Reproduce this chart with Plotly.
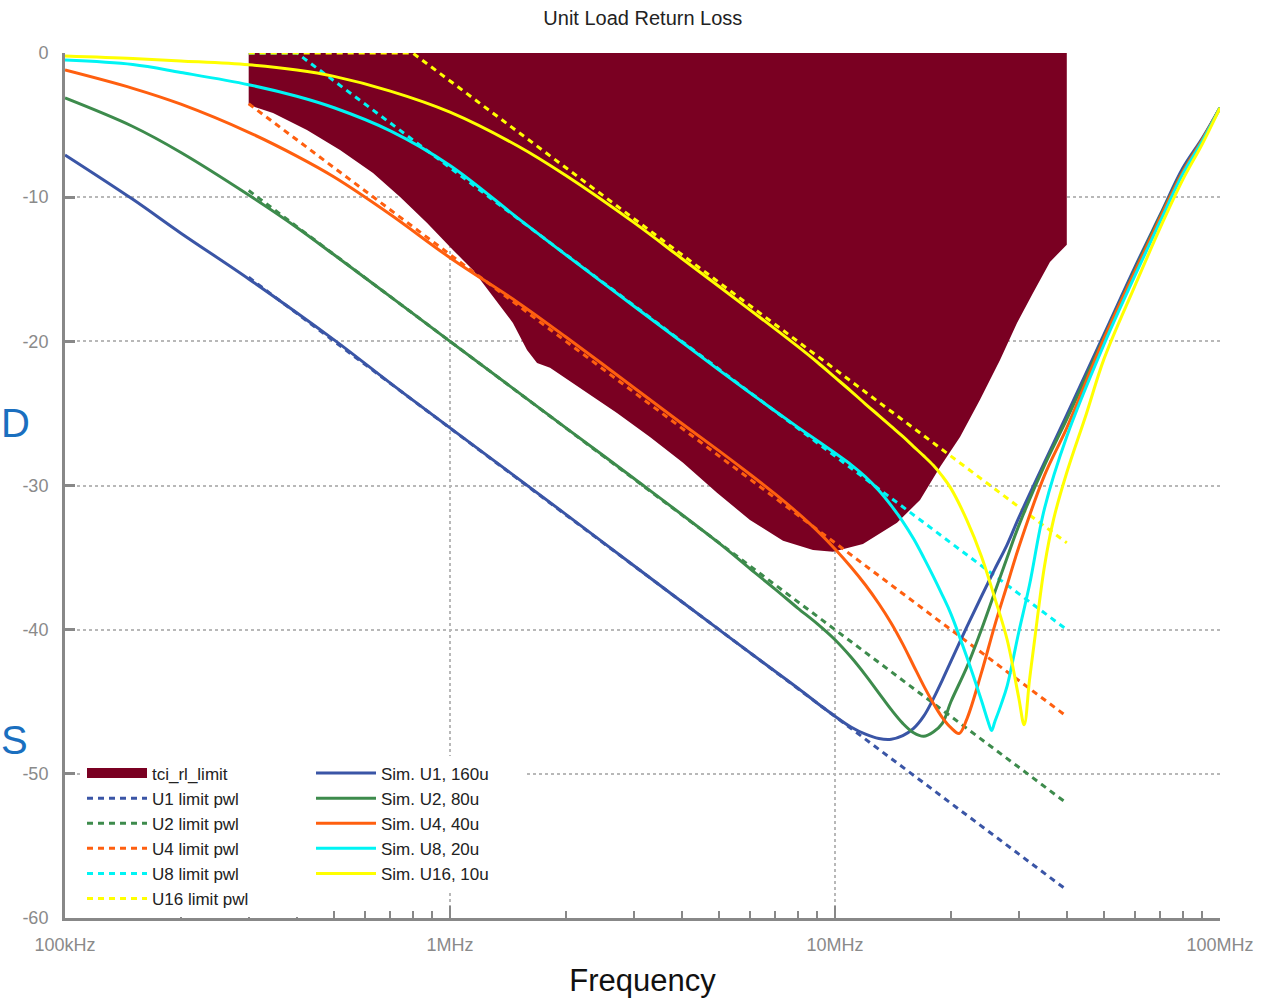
import plotly.graph_objects as go

# ---------------- data (frequency in MHz, return loss in dB) ----------------
limit_top_f = [0.3, 40.0]
limit_top_db = [0.0, 0.0]
limit_low_f = [0.30, 0.347, 0.425, 0.518, 0.631, 0.742, 0.872, 1.018, 1.147, 1.293, 1.457,
               1.585, 1.683, 1.819, 2.216, 2.715, 3.307, 4.03, 4.937, 6.014, 7.328, 8.768,
               9.881, 11.82, 14.49, 16.63, 18.74, 21.12, 23.8, 26.83, 29.7, 32.68, 36.17, 40.0]
limit_low_db = [-3.6, -4.16, -5.34, -6.73, -8.32, -9.99, -11.79, -13.66, -15.05, -16.92, -18.72,
                -20.6, -21.5, -21.84, -23.37, -24.97, -26.63, -28.43, -30.51, -32.39, -33.84, -34.47,
                -34.6, -34.05, -32.59, -31.0, -28.72, -26.63, -24.06, -21.29, -18.72, -16.64, -14.49, -13.3]

u1_pwl_f = [0.3, 40.0]
u1_pwl_db = [-15.56, -58.06]
u2_pwl_f = [0.3, 40.0]
u2_pwl_db = [-9.54, -52.04]
u4_pwl_f = [0.3, 40.0]
u4_pwl_db = [-3.52, -46.02]
u8_pwl_f = [0.3, 0.4, 40.0]
u8_pwl_db = [0.0, 0.0, -40.0]
u16_pwl_f = [0.3, 0.8, 40.0]
u16_pwl_db = [0.0, 0.0, -33.98]

sim_u1_f = [0.1, 0.15, 0.2, 0.3, 0.5, 0.7, 1, 2, 3, 5, 7, 8, 9, 10, 11, 12, 13, 14, 15, 16, 17,
            18, 19, 20, 22, 24, 26, 28, 30, 35, 40, 50, 60, 70, 80, 90, 100]
sim_u1_db = [-7.07, -10.15, -12.5, -15.67, -19.9, -22.9, -26.0, -32.0, -35.55, -40.0, -42.9,
             -44.05, -45.1, -46.0, -46.75, -47.25, -47.55, -47.6, -47.35, -46.85, -46.0, -44.8,
             -43.5, -42.2, -39.8, -37.7, -35.8, -34.1, -32.25, -28.4, -25.1, -19.5, -14.9, -11.2,
             -8.0, -5.9, -3.8]

sim_u2_f = [0.1, 0.15, 0.2, 0.3, 0.4, 0.5, 0.7, 1, 2, 3, 5, 6, 7, 8, 9, 10, 11, 12, 13, 14, 15,
            16, 17, 18, 19, 20, 22, 24, 26, 28, 30, 35, 40, 50, 60, 70, 80, 90, 100]
sim_u2_db = [-3.12, -5.1, -6.9, -9.85, -12.1, -14.0, -16.9, -20.0, -26.0, -29.5, -34.0, -35.75,
             -37.2, -38.5, -39.6, -40.7, -41.9, -43.15, -44.4, -45.55, -46.5, -47.15, -47.4,
             -47.1, -46.5, -45.0, -42.6, -40.0, -37.4, -35.0, -32.8, -28.6, -25.4, -19.7, -15.1,
             -11.3, -8.2, -6.0, -3.8]

sim_u4_f = [0.1, 0.15, 0.2, 0.3, 0.4, 0.5, 0.7, 1, 1.5, 2, 3, 4, 5, 6, 7, 8, 9, 10, 11, 12, 13,
            14, 15, 16, 17, 18, 19, 20, 21, 22, 24, 26, 28, 30, 35, 40, 50, 60, 70, 80, 90, 100]
sim_u4_db = [-1.18, -2.45, -3.55, -5.5, -7.15, -8.6, -11.2, -14.2, -17.3, -19.7, -23.2, -25.7,
             -27.6, -29.2, -30.6, -31.9, -33.15, -34.4, -35.65, -36.9, -38.2, -39.55, -41.0,
             -42.5, -43.9, -45.1, -46.1, -46.8, -47.2, -46.2, -43.0, -39.7, -36.9, -34.3, -29.3,
             -26.0, -19.8, -15.2, -11.4, -8.25, -6.0, -3.8]

sim_u8_f = [0.1, 0.15, 0.2, 0.3, 0.4, 0.5, 0.7, 1, 1.5, 2, 3, 4, 5, 6, 7, 8, 9, 10, 11, 12, 13,
            14, 15, 16, 17, 18, 19, 20, 22, 24, 25, 25.5, 26, 27, 28, 30, 32, 35, 40, 50, 60, 70,
            80, 90, 100]
sim_u8_db = [-0.49, -0.8, -1.35, -2.2, -3.0, -3.8, -5.4, -7.8, -11.45, -14.0, -17.55, -20.05,
             -22.0, -23.55, -24.85, -25.95, -26.9, -27.75, -28.55, -29.4, -30.35, -31.4, -32.5,
             -33.7, -35.0, -36.3, -37.6, -38.9, -41.9, -44.9, -46.4, -47.0, -46.4, -45.2, -43.9,
             -40.2, -36.9, -31.6, -26.6, -20.2, -15.5, -11.65, -8.4, -6.1, -3.8]

sim_u16_f = [0.1, 0.15, 0.2, 0.3, 0.4, 0.5, 0.7, 1, 1.5, 2, 3, 4, 5, 6, 7, 8, 9, 10, 11, 12, 13,
             14, 15, 16, 17, 18, 19, 20, 22, 24, 26, 28, 30, 31, 32, 33, 35, 37, 40, 45, 50, 60,
             70, 80, 90, 100]
sim_u16_db = [-0.21, -0.38, -0.55, -0.82, -1.18, -1.62, -2.64, -4.1, -6.45, -8.5, -11.75, -14.25,
              -16.2, -17.8, -19.15, -20.35, -21.45, -22.5, -23.45, -24.35, -25.15, -25.9, -26.6,
              -27.3, -27.95, -28.6, -29.35, -30.2, -32.4, -34.9, -37.8, -40.7, -44.7, -46.6,
              -43.5, -40.7, -35.6, -32.3, -29.1, -25.0, -21.2, -16.2, -12.1, -8.8, -6.3, -3.8]

x_tick_vals = [0.1, 1, 10, 100]
x_tick_text = ["100kHz", "1MHz", "10MHz", "100MHz"]
x_minor_vals = [0.2, 0.3, 0.4, 0.5, 0.6, 0.7, 0.8, 0.9, 2, 3, 4, 5, 6, 7, 8, 9,
                20, 30, 40, 50, 60, 70, 80, 90]
y_tick_vals = [0, -10, -20, -30, -40, -50, -60]
y_tick_text = ["0", "-10", "-20", "-30", "-40", "-50", "-60"]

# ---------------- styles ----------------
C_FILL = "#7a0022"
C_BLUE = "#3a55a6"
C_GREEN = "#3d8b4c"
C_ORANGE = "#ff5f0f"
C_CYAN = "#00f4f4"
C_YELLOW = "#ffff00"
DASH = "6px,5px"
NARROW = "Liberation Sans Narrow, Arial Narrow, Liberation Sans, sans-serif"
PAD1 = "\u00a0" * 20
PAD2 = "\u00a0" * 7

fig = go.Figure()

poly_f = limit_top_f + limit_low_f[::-1] + [limit_top_f[0]]
poly_db = limit_top_db + limit_low_db[::-1] + [limit_top_db[0]]
fig.add_trace(go.Scatter(x=poly_f, y=poly_db, fill="toself", fillcolor=C_FILL,
                         line=dict(width=0, color=C_FILL), mode="lines",
                         name="tci_rl_limit", showlegend=False, hoverinfo="skip"))
# legend swatch for the filled limit region
fig.add_trace(go.Scatter(x=[None], y=[None], mode="lines", name="tci_rl_limit" + PAD1,
                         legend="legend", line=dict(color=C_FILL, width=16)))

for name, fx, fy, col in [("U1 limit pwl", u1_pwl_f, u1_pwl_db, C_BLUE),
                          ("U2 limit pwl", u2_pwl_f, u2_pwl_db, C_GREEN),
                          ("U4 limit pwl", u4_pwl_f, u4_pwl_db, C_ORANGE),
                          ("U8 limit pwl", u8_pwl_f, u8_pwl_db, C_CYAN),
                          ("U16 limit pwl", u16_pwl_f, u16_pwl_db, C_YELLOW)]:
    fig.add_trace(go.Scatter(x=fx, y=fy, mode="lines", name=name, legend="legend",
                             line=dict(color=col, width=3, dash=DASH)))

for name, fx, fy, col in [("Sim. U1, 160u" + PAD2, sim_u1_f, sim_u1_db, C_BLUE),
                          ("Sim. U2, 80u", sim_u2_f, sim_u2_db, C_GREEN),
                          ("Sim. U4, 40u", sim_u4_f, sim_u4_db, C_ORANGE),
                          ("Sim. U8, 20u", sim_u8_f, sim_u8_db, C_CYAN),
                          ("Sim. U16, 10u", sim_u16_f, sim_u16_db, C_YELLOW)]:
    fig.add_trace(go.Scatter(x=fx, y=fy, mode="lines", name=name, legend="legend2",
                             line=dict(color=col, width=3, shape="spline", smoothing=1.0)))

AX = "#888888"
GRID = "#b8b8b8"
LEG_TOP = (918 - 755.5) / 865
fig.update_layout(
    width=1273, height=998,
    margin=dict(l=65, r=53, t=53, b=80),
    paper_bgcolor="white", plot_bgcolor="white",
    font=dict(family="Liberation Sans, Arial, sans-serif", color="#222"),
    title=dict(text="Unit Load Return Loss", x=0.505, xanchor="center",
               y=1 - 18 / 998, yanchor="middle", yref="container",
               font=dict(size=20, color="#222")),
    xaxis=dict(type="log", range=[-1, 2], tickmode="array", tickvals=x_tick_vals,
               ticktext=x_tick_text, ticks="inside", ticklen=12, tickwidth=2, tickcolor=AX,
               showline=True, linecolor=AX, linewidth=3, showgrid=True, gridcolor=GRID,
               griddash="dot", gridwidth=2, zeroline=False, ticklabelstandoff=8,
               automargin=False,
               tickfont=dict(size=18, color="#8a8a8a", family=NARROW),
               minor=dict(tickmode="array", tickvals=x_minor_vals, ticks="inside", ticklen=7,
                          tickwidth=2, tickcolor=AX, showgrid=False),
               title=dict(text="Frequency", standoff=20,
                          font=dict(size=31, color="#111", family=NARROW))),
    yaxis=dict(range=[-60, 0], tickmode="array", tickvals=y_tick_vals, ticktext=y_tick_text,
               ticks="inside", ticklen=10, tickwidth=3, tickcolor=AX,
               showline=True, linecolor=AX, linewidth=3, showgrid=True, gridcolor=GRID,
               griddash="dot", gridwidth=2, zeroline=False, ticklabelstandoff=10,
               automargin=False,
               tickfont=dict(size=18, color="#8a8a8a")),
    legend=dict(x=(82 - 65) / 1155, y=LEG_TOP, xanchor="left", yanchor="top",
                bgcolor="white", borderwidth=0, itemwidth=60,
                font=dict(size=17, color="#222"), tracegroupgap=0),
    legend2=dict(x=(311 - 65) / 1155, y=LEG_TOP, xanchor="left", yanchor="top",
                 bgcolor="white", borderwidth=0, itemwidth=60,
                 font=dict(size=17, color="#222"), tracegroupgap=0),
    annotations=[
        dict(text="D", xref="paper", yref="paper", x=-65 / 1155, y=0.572, xanchor="left",
             yanchor="middle", showarrow=False, borderpad=0,
             font=dict(size=40, color="#1a6fbf", family="Liberation Sans, sans-serif")),
        dict(text="S", xref="paper", yref="paper", x=-65 / 1155, y=0.206, xanchor="left",
             yanchor="middle", showarrow=False, borderpad=0,
             font=dict(size=40, color="#1a6fbf", family="Liberation Sans, sans-serif")),
    ],
)

fig.write_html("out.html")
